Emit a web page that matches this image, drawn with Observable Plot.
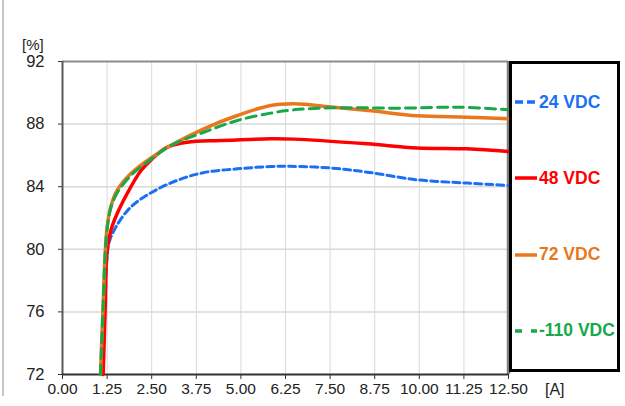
<!DOCTYPE html>
<html>
<head>
<meta charset="utf-8">
<script src="https://cdn.jsdelivr.net/npm/d3@7"></script>
<script src="https://cdn.jsdelivr.net/npm/@observablehq/plot@0.6"></script>
<style>
  html, body { margin: 0; padding: 0; background: #fff; }
  #wrap { position: relative; width: 625px; height: 406px; overflow: hidden; font-family: "Liberation Sans", Arial, sans-serif; }
  #outer { position: absolute; left: 2px; top: 0; width: 0; height: 396px; border-left: 2px solid #c8c8c8; }
  #ylab { position: absolute; left: 22px; top: 36px; font-size: 15px; color: #222; }
  #xlab { position: absolute; left: 545px; top: 381px; font-size: 16px; color: #222; }
  #legend { position: absolute; left: 509px; top: 61px; width: 105px; height: 305px; border: 3px solid #000;
            display: flex; flex-direction: column; justify-content: space-around; background: #fff; }
  .item { display: flex; align-items: center; font-weight: bold; font-size: 17.5px; white-space: nowrap; }
  .item svg { margin-left: 2px; margin-right: 1px; }
</style>
</head>
<body>
<div id="wrap">
  <div id="chart"></div>
  <div id="outer"></div>
  <div id="ylab">[%]</div>
  <div id="xlab">[A]</div>
  <div id="legend"></div>
</div>
<script>
// ---- data ----
const seriesNames = ["24 VDC", "48 VDC", "72 VDC", "-110 VDC"];
const seriesColors = ["#1a6ff2", "#ff0000", "#e8771e", "#17a84a"];
const seriesDash = ["7,4", null, null, "10,6"];

const current24 = [1.1, 1.17, 1.25, 1.3, 1.49, 1.91, 2.51, 3.21, 3.96, 4.9, 5.83, 6.39, 7.5, 8.54, 9.94, 11.34, 12.5];
const eff24     = [72, 76.5, 79.5, 80.4, 81.4, 82.69, 83.65, 84.4, 84.9, 85.14, 85.29, 85.3, 85.2, 84.93, 84.44, 84.23, 84.08];

const current48 = [1.14, 1.2, 1.25, 1.36, 1.53, 1.81, 2.19, 2.51, 2.93, 3.49, 4.43, 5.83, 6.5, 8.54, 9.94, 11.34, 12.5];
const eff48     = [72, 76.5, 79.9, 81.24, 82.27, 83.55, 85.0, 85.78, 86.52, 86.84, 86.95, 87.06, 87.04, 86.74, 86.48, 86.42, 86.25];

const current72 = [1.065, 1.14, 1.2, 1.25, 1.35, 1.53, 1.91, 2.51, 3.12, 3.96, 4.9, 5.83, 6.48, 7.6, 8.72, 9.94, 11.34, 12.5];
const eff72     = [72, 76.5, 79.9, 81.4, 82.7, 83.76, 84.82, 85.88, 86.74, 87.7, 88.55, 89.19, 89.3, 89.08, 88.83, 88.53, 88.44, 88.34];

const current110 = [1.065, 1.14, 1.2, 1.25, 1.35, 1.53, 1.91, 2.51, 3.03, 3.96, 4.9, 5.83, 6.48, 7.6, 9.47, 11.15, 12.5];
const eff110     = [72, 76.5, 79.9, 81.3, 82.6, 83.6, 84.7, 85.8, 86.63, 87.48, 88.23, 88.7, 88.91, 89.04, 89.02, 89.08, 88.91];

const xTicks = [0, 1.25, 2.5, 3.75, 5, 6.25, 7.5, 8.75, 10, 11.25, 12.5];
const yTicks = [72, 76, 80, 84, 88, 92];

// ---- build ----
const currents = [current24, current48, current72, current110];
const effs = [eff24, eff48, eff72, eff110];
const rows = seriesNames.map((name, i) => currents[i].map((c, j) => ({series: name, x: c, y: effs[i][j]})));

const lineMarks = rows.map((data, i) => Plot.line(data, {
  x: "x", y: "y", stroke: seriesColors[i], strokeWidth: seriesDash[i] ? 3 : 3.5,
  strokeDasharray: seriesDash[i] || undefined, curve: "catmull-rom"
}));

const chart = Plot.plot({
  width: 625, height: 406,
  marginLeft: 62, marginRight: 117, marginTop: 61, marginBottom: 32,
  x: {domain: [0, 12.5]},
  y: {domain: [72, 92]},
  style: {fontFamily: "'Liberation Sans', Arial, sans-serif", fontSize: "15px", color: "#222", background: "transparent", overflow: "visible"},
  marks: [
    Plot.gridX(xTicks.filter(d => d > 0 && d < 12.5), {stroke: "#d9d9d9", strokeOpacity: 1, strokeWidth: 1}),
    Plot.gridY(yTicks.filter(d => d > 72 && d < 92), {stroke: "#d9d9d9", strokeOpacity: 1, strokeWidth: 1.5}),
    Plot.axisX({ticks: xTicks, tickFormat: d => d.toFixed(2), tickSize: 5, tickPadding: 3, label: null,
                stroke: "#333", fontFamily: "'Liberation Sans Narrow', 'Arial Narrow', 'Liberation Sans', sans-serif", fontSize: 15.5}),
    Plot.axisY({ticks: yTicks, tickSize: 4, tickPadding: 14, label: null, stroke: "#333", fontSize: 16.5}),
    Plot.ruleY([92], {stroke: "#8c8c8c", strokeWidth: 2}),
    Plot.ruleX([12.5], {stroke: "#7f7f7f", strokeWidth: 3.5}),
    Plot.ruleX([0], {stroke: "#595959", strokeWidth: 2}),
    Plot.ruleY([72], {stroke: "#333", strokeWidth: 2}),
    ...lineMarks
  ]
});
document.getElementById("chart").appendChild(chart);

// legend from the same arrays
const legend = d3.select("#legend");
seriesNames.forEach((name, i) => {
  const item = legend.append("div").attr("class", "item").style("color", seriesColors[i]);
  const svg = item.append("svg").attr("width", 24).attr("height", 10);
  svg.append("line").attr("x1", 1).attr("x2", 23).attr("y1", 5).attr("y2", 5)
    .attr("stroke", seriesColors[i]).attr("stroke-width", 3.5)
    .attr("stroke-dasharray", seriesDash[i] ? (i === 0 ? "8,4" : "7,9") : null);
  item.append("span").text(name);
});
</script>
</body>
</html>
